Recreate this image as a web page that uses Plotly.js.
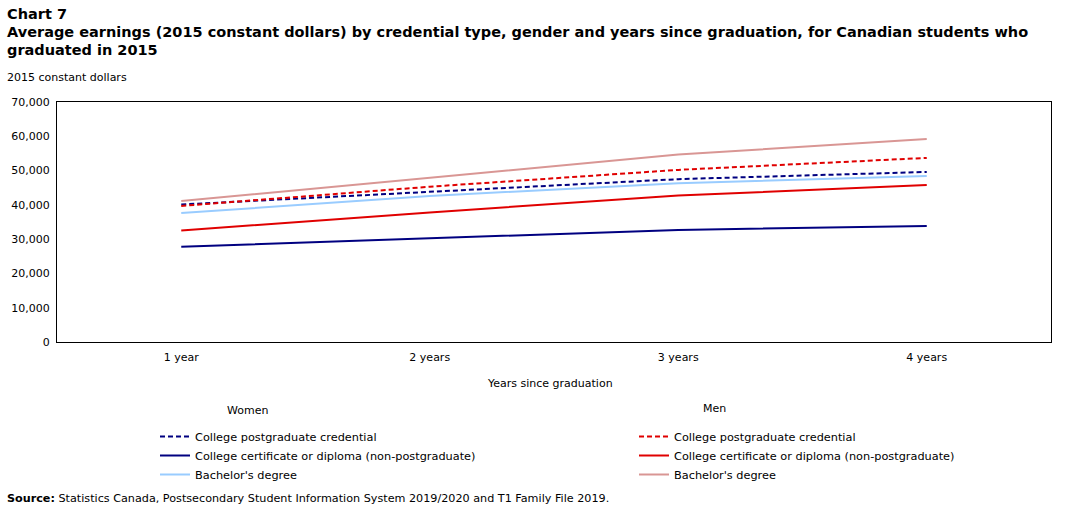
<!DOCTYPE html>
<html>
<head>
<meta charset="utf-8">
<script src="https://cdn.plot.ly/plotly-3.0.1.min.js"></script>
<style>html,body{margin:0;padding:0;background:#fff;}#chart{width:1079px;height:511px;}</style>
</head>
<body>
<div id="chart"></div>
<script>
const categories = ["1 year", "2 years", "3 years", "4 years"];
const womenPostgrad = [40100, 43800, 47500, 49600];
const womenCert = [27800, 30200, 32700, 33800];
const womenBachelor = [37600, 42600, 46300, 48400];
const menPostgrad = [39700, 45300, 50200, 53700];
const menCert = [32500, 37800, 42700, 45800];
const menBachelor = [41100, 48000, 54700, 59200];
const seriesNames = ["College postgraduate credential", "College certificate or diploma (non-postgraduate)", "Bachelor's degree"];
const yTicks = [0, 10000, 20000, 30000, 40000, 50000, 60000, 70000];

const FONT = "Verdana, 'DejaVu Sans', sans-serif";
const navy = "#000080", lightBlue = "#99CCFF", red = "#E00000", pink = "#D99694";
const dashPat = "5px,3px";

function tr(y, name, color, dash, legend) {
  return {x: categories, y: y, name: name, type: "scatter", mode: "lines",
    line: {color: color, width: 2, dash: dash}, legend: legend, hoverinfo: "skip"};
}

const data = [
  tr(womenPostgrad, seriesNames[0], navy, dashPat, "legend"),
  tr(womenCert, seriesNames[1], navy, "solid", "legend"),
  tr(womenBachelor, seriesNames[2], lightBlue, "solid", "legend"),
  tr(menPostgrad, seriesNames[0], red, dashPat, "legend2"),
  tr(menCert, seriesNames[1], red, "solid", "legend2"),
  tr(menBachelor, seriesNames[2], pink, "solid", "legend2")
];

// helpers converting page pixels into paper coordinates (plot area 57..1051 x 102..342)
const px = p => (p - 57) / 994;
const py = p => (342 - p) / 240;

function ann(text, x, y, size, anchor) {
  return {text: text, xref: "paper", yref: "paper", x: px(x), xanchor: anchor || "left",
    y: py(y), yanchor: "middle", showarrow: false, borderpad: 0,
    font: {family: FONT, size: size, color: "#000"}};
}

const layout = {
  width: 1079, height: 511,
  margin: {l: 57, r: 28, t: 102, b: 169},
  paper_bgcolor: "#fff", plot_bgcolor: "#fff",
  font: {family: FONT, size: 11, color: "#000"},
  showlegend: true,
  xaxis: {type: "category", range: [-0.5, 3.5], showgrid: false, zeroline: false,
    showline: true, linecolor: "#000", linewidth: 1, mirror: true,
    ticks: "outside", ticklen: 5, tickcolor: "rgba(0,0,0,0)",
    tickfont: {family: FONT, size: 11, color: "#000"}, fixedrange: true},
  yaxis: {range: [0, 70000], tickvals: yTicks, tickformat: ",", showgrid: false, zeroline: false,
    showline: true, linecolor: "#000", linewidth: 1, mirror: true,
    ticks: "outside", ticklen: 4, tickcolor: "rgba(0,0,0,0)",
    tickfont: {family: FONT, size: 11, color: "#000"}, fixedrange: true},
  legend: {x: px(155), xanchor: "left", y: py(422), yanchor: "top",
    font: {family: FONT, size: 11.3, color: "#000"}, bgcolor: "rgba(0,0,0,0)", tracegroupgap: 0},
  legend2: {x: px(634), xanchor: "left", y: py(422), yanchor: "top",
    font: {family: FONT, size: 11.3, color: "#000"}, bgcolor: "rgba(0,0,0,0)", tracegroupgap: 0},
  annotations: [
    ann("<b>Chart 7</b>", 6, 14, 14.5),
    ann("<b>Average earnings (2015 constant dollars) by credential type, gender and years since graduation, for Canadian students who</b>", 6, 32, 14.5),
    ann("<b>graduated in 2015</b>", 6, 50, 14.5),
    ann("2015 constant dollars", 6, 78, 11),
    ann("Years since graduation", 550, 383, 11, "center"),
    ann("Women", 226, 410, 11),
    ann("Men", 702, 408, 11),
    ann("<b>Source:</b> Statistics Canada, Postsecondary Student Information System 2019/2020 and T1 Family File 2019.", 6, 498, 11.2)
  ]
};

Plotly.newPlot("chart", data, layout, {staticPlot: true, displayModeBar: false});
</script>
</body>
</html>
